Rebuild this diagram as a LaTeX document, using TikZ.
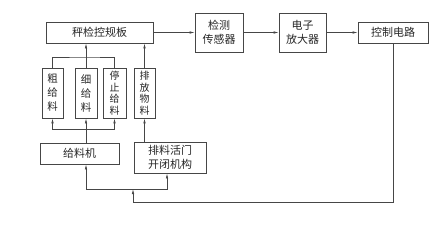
\documentclass[tikz,border=0pt]{standalone}
\usepackage{fontspec}
\usepackage{tikz}
\usetikzlibrary{arrows.meta,positioning}
\newfontfamily\cjk{Noto Sans CJK SC}
\definecolor{linegray}{RGB}{70,70,70}

\begin{document}
\begin{tikzpicture}[
        x=1pt, y=-1pt,
        box/.style={draw=linegray, line width=0.7pt, inner sep=0pt, align=center,
          font=\cjk\fontsize{11}{13.5}\selectfont, text=black!85},
        vbox/.style={box, minimum width=21pt, minimum height=50pt,
          font=\cjk\fontsize{10.5}{14}\selectfont},
        vbox4/.style={vbox, font=\cjk\fontsize{10}{11.6}\selectfont},
        arr/.style={draw=linegray, line width=0.6pt, -{Latex[length=5pt,width=2.4pt]}},
        wire/.style={draw=linegray, line width=0.6pt}
      ]
        \useasboundingbox (0,0) rectangle (435,241);
        \node[box, minimum width=107pt, minimum height=21pt] (board) at (99.5,32.5) {秤检控规板};
        \node[box, minimum width=48pt, minimum height=39pt] (sensor) at (219,32.5) {检测\\传感器};
        \node[box, minimum width=47pt, minimum height=39pt] (amp) at (302.5,32.5) {电子\\放大器};
        \node[box, minimum width=70pt, minimum height=21pt] (ctrl) at (393,32.5) {控制电路};
        \node[vbox] (coarse) at (52.5,93) {粗\\给\\料};
        \node[vbox, minimum width=22pt] (fine) at (86,93) {细\\给\\料};
        \node[vbox4, minimum width=23pt] (stop) at (114.5,93) {停\\止\\给\\料};
        \node[vbox4] (dis) at (144.5,93) {排\\放\\物\\料};
        \node[box, minimum width=79pt, minimum height=21pt] (feeder) at (79.5,153.5) {给料机};
        \node[box, minimum width=72pt, minimum height=31pt] (gate) at (170,157.5) {排料活门\\开闭机构};
        \coordinate (tj) at (86,57);
        \coordinate (fj) at (86,129);
        \coordinate (split) at (133,189);
        \coordinate (bend) at (133,202);
        \draw[arr] (board) -- (sensor);
        \draw[arr] (sensor) -- (amp);
        \draw[arr] (amp) -- (ctrl);
        \draw[arr] (ctrl.south) |- (bend) -- (split);
        \draw[arr] (split) -| (fine.south |- feeder.south);
        \draw[arr] (split) -| ([xshift=-3pt]gate.south);
        \draw[wire] (feeder.north -| fine) -- (fj);
        \draw[arr] (fj) -| (coarse.south);
        \draw[arr] (fj) -| (stop.south);
        \draw[arr] (fj) -- (fine.south);
        \draw[arr] (gate.north -| dis) -- (dis.south);
        \draw[arr] (dis.north) -- (dis.north |- board.south);
        \draw[wire] (coarse.north) |- (tj) -| (stop.north);
        \draw[wire] (fine.north) -- (tj);
        \draw[arr] (tj) -- (board.south -| tj);
      \end{tikzpicture}
\end{document}
